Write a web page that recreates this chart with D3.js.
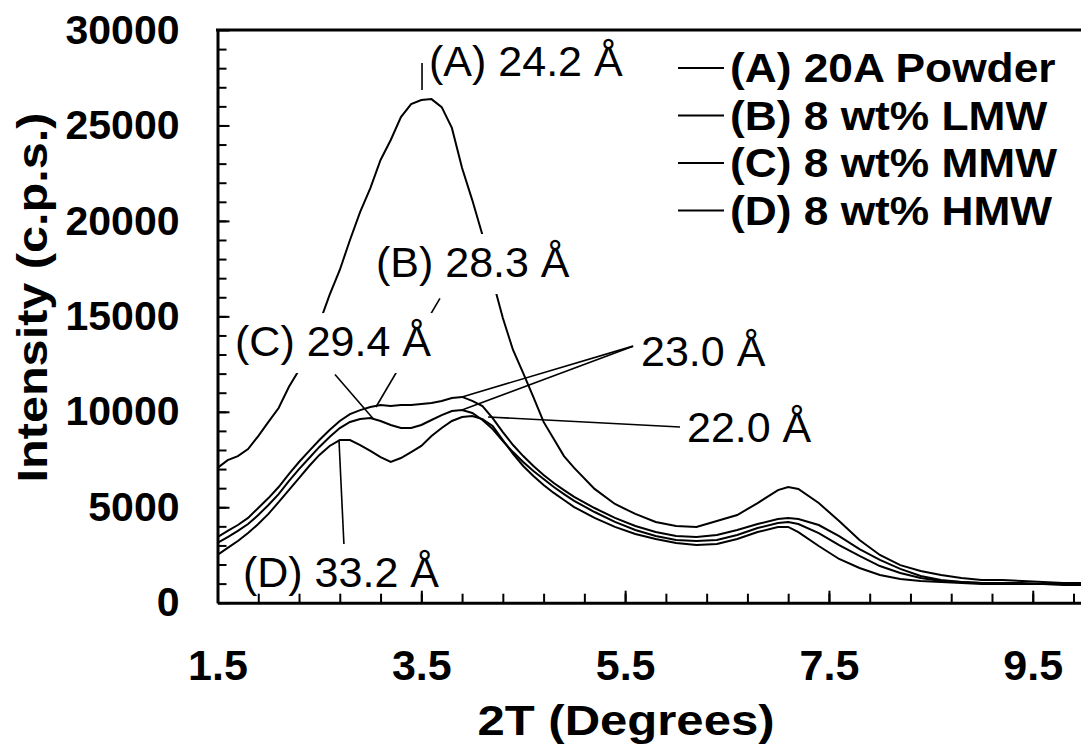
<!DOCTYPE html>
<html>
<head>
<meta charset="utf-8">
<script src="https://cdn.jsdelivr.net/npm/d3@7"></script>
<style>
  body { margin: 0; background: #fff; }
  text { font-family: "Liberation Sans", Arial, sans-serif; fill: #000; }
</style>
</head>
<body>
<script>
// 2-theta grid (degrees) the curves were read at
const angles = [1.5, 1.6, 1.7, 1.8, 1.9, 2.0, 2.1, 2.2, 2.3, 2.4, 2.5, 2.6, 2.7, 2.8, 2.9,
  3.0, 3.1, 3.2, 3.3, 3.4, 3.5, 3.6, 3.7, 3.8, 3.9, 4.0, 4.1, 4.2, 4.3, 4.4, 4.5, 4.6, 4.7,
  4.8, 4.9, 5.0, 5.2, 5.4, 5.6, 5.8, 6.0, 6.2, 6.4, 6.6, 6.8, 7.0, 7.1, 7.2, 7.4, 7.6, 7.8,
  8.0, 8.2, 8.4, 8.6, 8.8, 9.0, 9.2, 9.4, 9.6, 9.8, 10.0];

const powderA = [7060, 7470, 7680, 8050, 8730, 9470, 10200, 11300, 12190, 13500, 14650, 16120,
  17430, 19000, 20470, 21720, 23190, 24240, 25440, 26120, 26330, 26380, 25960, 24870, 22770,
  21090, 19260, 16900, 14910, 13240, 12030, 10770, 9470, 8570, 7680, 7060, 5960, 5170, 4650,
  4230, 4020, 3970, 4280, 4590, 5220, 5900, 6060, 5960, 5220, 4280, 3280, 2500, 1970, 1660,
  1450, 1290, 1190, 1190, 1140, 1080, 1030, 1030];

const lmwB = [3440, 3760, 4070, 4440, 4960, 5480, 6060, 6740, 7370, 7950, 8520, 9050, 9520,
  9880, 10090, 10250, 10360, 10300, 10360, 10360, 10410, 10460, 10570, 10720, 10780, 10570,
  10300, 9670, 8940, 8260, 7680, 7160, 6690, 6270, 5900, 5540, 4960, 4440, 4020, 3700, 3490,
  3440, 3550, 3810, 4120, 4380, 4440, 4380, 4070, 3490, 2810, 2240, 1770, 1400, 1190, 1080,
  1030, 1030, 1030, 980, 980, 980];

const mmwC = [3130, 3440, 3760, 4120, 4590, 5120, 5690, 6370, 7000, 7580, 8160, 8680, 9150,
  9470, 9620, 9670, 9520, 9310, 9150, 9150, 9310, 9570, 9830, 10040, 10090, 9940, 9570, 9100,
  8470, 7890, 7370, 6900, 6480, 6060, 5690, 5330, 4750, 4230, 3810, 3490, 3280, 3230, 3280,
  3550, 3910, 4170, 4230, 4120, 3650, 3020, 2450, 1920, 1560, 1290, 1140, 1080, 1030, 1030,
  980, 980, 980, 980];

const hmwD = [2500, 2870, 3230, 3650, 4120, 4650, 5270, 5900, 6530, 7160, 7740, 8210, 8520,
  8520, 8260, 7950, 7630, 7370, 7580, 7890, 8210, 8730, 9150, 9520, 9730, 9780, 9620, 9260,
  8520, 7790, 7160, 6640, 6170, 5750, 5380, 5010, 4440, 3970, 3600, 3340, 3130, 3020, 3070,
  3340, 3700, 3970, 3970, 3700, 2970, 2290, 1820, 1450, 1240, 1140, 1080, 1030, 980, 980,
  980, 980, 930, 930];

const seriesNames = ["(A) 20A Powder", "(B) 8 wt% LMW", "(C) 8 wt% MMW", "(D) 8 wt% HMW"];
const xTickLabels = [1.5, 3.5, 5.5, 7.5, 9.5];
const yTickLabels = [0, 5000, 10000, 15000, 20000, 25000, 30000];

// peak labels: text anchor and leader lines, in data units
const peakLabels = [
  { text: "(A) 24.2 Å", at: [3.576, 27590], leaders: [[[3.507, 28270], [3.507, 26860]]] },
  { text: "(B) 28.3 Å", at: [3.055, 17060], leaders: [[[3.683, 15940], [3.055, 10250]]] },
  { text: "(C) 29.4 Å", at: [1.672, 12920], leaders: [[[2.653, 11950], [3.026, 9650]]] },
  { text: "(D) 33.2 Å", at: [1.750, 820], leaders: [[[2.692, 8520], [2.741, 3020]]] },
  { text: "23.0 Å", at: [5.656, 12400], leaders: [[[5.578, 13440], [3.899, 10780]], [[5.578, 13440], [3.899, 10090]]] },
  { text: "22.0 Å", at: [6.107, 8420], leaders: [[[6.039, 9200], [4.155, 9730]]] }
];

const width = 1081, height = 753;
const svg = d3.select("body").append("svg")
  .attr("width", width)
  .attr("height", height);

const x = d3.scaleLinear().domain([1.5, 10]).range([217.5, 1083.7]);
const y = d3.scaleLinear().domain([0, 30000]).range([602.7, 30]);

svg.append("clipPath").attr("id", "plot")
  .append("rect")
  .attr("x", 217.5).attr("y", 30)
  .attr("width", width - 217.5).attr("height", 572.7);

const line = d3.line()
  .x((d, i) => x(angles[i]))
  .y(d => y(d));

// curves
svg.append("g").attr("clip-path", "url(#plot)")
  .selectAll("path")
  .data([powderA, lmwB, mmwC, hmwD])
  .enter()
  .append("path")
  .attr("d", line)
  .attr("fill", "none")
  .attr("stroke", "#000")
  .attr("stroke-width", 2);

// leader lines
const notes = svg.append("g");
peakLabels.forEach(p => {
  p.leaders.forEach(l => {
    notes.append("line")
      .attr("x1", x(l[0][0])).attr("y1", y(l[0][1]))
      .attr("x2", x(l[1][0])).attr("y2", y(l[1][1]))
      .attr("stroke", "#000")
      .attr("stroke-width", 1.6);
  });
});

// label text with white box behind (it hides the curves underneath)
peakLabels.forEach(p => {
  const g = notes.append("g");
  const t = g.append("text")
    .attr("x", x(p.at[0]))
    .attr("y", y(p.at[1]))
    .attr("font-size", 43)
    .text(p.text);
  const b = t.node().getBBox();
  g.insert("rect", "text")
    .attr("x", b.x - 4).attr("y", b.y - 4)
    .attr("width", b.width + 8).attr("height", b.height + 12)
    .attr("fill", "#fff");
});

// axes
const xAxis = svg.append("g").attr("transform", "translate(0,602.7)")
  .call(d3.axisBottom(x).tickValues(xTickLabels).tickSize(-12).tickSizeOuter(0)
    .tickPadding(47).tickFormat(d3.format(".1f")));
svg.append("g").attr("transform", "translate(0,602.7)")
  .call(d3.axisBottom(x).tickValues(d3.range(1.9, 10, 0.4)).tickSize(-9).tickSizeOuter(0)
    .tickFormat(""))
  .select(".domain").remove();
xAxis.selectAll("text").attr("font-size", 43).attr("font-weight", "bold")
  .style("font-family", "'Liberation Sans', Arial, sans-serif").attr("fill", "#000");

const yAxis = svg.append("g").attr("transform", "translate(217.5,0)")
  .call(d3.axisLeft(y).tickValues(yTickLabels).tickSize(-12).tickSizeOuter(0)
    .tickPadding(38).tickFormat(d3.format("d")));
svg.append("g").attr("transform", "translate(217.5,0)")
  .call(d3.axisLeft(y).tickValues(d3.range(1000, 30000, 1000)).tickSize(-9).tickSizeOuter(0)
    .tickFormat(""))
  .select(".domain").remove();
yAxis.selectAll("text").attr("font-size", 41).attr("font-weight", "bold")
  .style("font-family", "'Liberation Sans', Arial, sans-serif").attr("fill", "#000");

svg.selectAll(".tick line").attr("stroke", "#000").attr("stroke-width", 2);
svg.selectAll(".domain").attr("stroke", "#000").attr("stroke-width", 3);

// top frame
svg.append("line")
  .attr("x1", 216).attr("x2", width)
  .attr("y1", 30).attr("y2", 30)
  .attr("stroke", "#000").attr("stroke-width", 3);

// axis titles
svg.append("text")
  .attr("x", 626).attr("y", 735)
  .attr("text-anchor", "middle")
  .attr("font-size", 43).attr("font-weight", "bold")
  .attr("textLength", 297).attr("lengthAdjust", "spacingAndGlyphs")
  .text("2T (Degrees)");

svg.append("text")
  .attr("transform", "translate(47,297.5) rotate(-90)")
  .attr("text-anchor", "middle")
  .attr("font-size", 43).attr("font-weight", "bold")
  .attr("textLength", 370).attr("lengthAdjust", "spacingAndGlyphs")
  .text("Intensity (c.p.s.)");

// legend
const legend = svg.append("g");
seriesNames.forEach((name, i) => {
  const ly = 68 + i * 47.5;
  legend.append("line")
    .attr("x1", 678).attr("x2", 724)
    .attr("y1", ly).attr("y2", ly)
    .attr("stroke", "#000").attr("stroke-width", 2);
  legend.append("text")
    .attr("transform", `translate(730,${ly + 14}) scale(1.08,1)`)
    .attr("font-size", 41).attr("font-weight", "bold")
    .text(name);
});
</script>
</body>
</html>
